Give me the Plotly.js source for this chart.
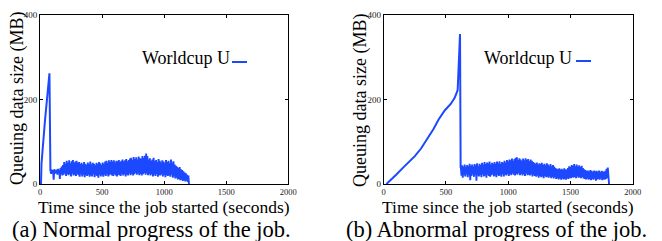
<!DOCTYPE html>
<html>
<head>
<meta charset="utf-8">
<script src="https://cdn.plot.ly/plotly-3.0.1.min.js"></script>
<style>
html,body{margin:0;padding:0;background:#fff;}
#chart{width:662px;height:241px;}
</style>
</head>
<body>
<div id="chart"></div>
<script>
// ---- data ----
const seriesName = "Worldcup U";
const xTicks = [0, 500, 1000, 1500, 2000];
const yTicks = [0, 200, 400];
const xTitle = "Time since the job started (seconds)";
const yTitle = "Queuing data size (MB)";
const captionA = "(a) Normal progress of the job.";
const captionB = "(b) Abnormal progress of the job.";

// (a) normal: initial build-up
const normalRampT = [8, 12, 40, 70, 76, 84];
const normalRampY = [0, 48, 150, 258, 262, 30];
// (a) normal: steady phase, sampled every 5 s from 85 s
const normalBandT0 = 85;
const normalBandDt = 5;
const normalBandY = [
  30,24,34,27,33,10,35,25,32,26,
  34,22,36,26,33,12,38,24,41,20,
  45,22,52,25,48,19,55,24,50,21,
  56,23,49,18,54,25,57,20,51,22,
  53,19,55,24,50,21,52,17,47,23,
  50,18,46,22,52,16,48,21,45,19,
  51,22,47,17,53,20,46,18,50,23,
  48,16,44,21,50,19,47,15,52,22,
  49,18,45,21,51,17,48,22,53,19,
  55,23,50,18,56,21,52,24,57,20,
  53,19,56,23,51,20,55,18,54,22,
  57,21,52,19,55,24,58,20,53,23,
  56,18,59,22,54,20,57,25,60,21,
  62,24,57,20,64,23,59,26,63,22,
  58,25,65,21,61,24,60,20,66,23,
  62,26,67,22,72,25,66,21,58,24,
  61,20,55,23,58,18,62,22,54,19,
  57,24,52,17,59,21,55,20,51,23,
  56,18,53,22,50,16,57,21,52,19,
  55,20,49,17,58,22,51,15,54,18,
  46,13,43,15,41,11,38,12,40,9,
  35,10,33,7,30,9,27,6,25,8,
  22,5,20,0
];

// (b) abnormal: long build-up
const abnormalRampT = [22, 60, 100, 150, 200, 250, 300, 350, 400, 440, 490, 540, 570, 594, 613, 618];
const abnormalRampY = [0, 10, 22, 37, 52, 66, 84, 106, 130, 152, 174, 190, 204, 222, 355, 38];
// (b) abnormal: steady phase, sampled every 5 s from 620 s
const abnormalBandT0 = 620;
const abnormalBandDt = 5;
const abnormalBandY = [
  38,20,44,15,41,22,46,18,40,24,
  45,16,42,21,48,9,43,19,46,23,
  41,17,47,22,44,8,49,20,42,18,
  48,21,45,16,50,23,46,18,52,20,
  47,15,51,22,49,19,53,17,46,21,
  50,23,47,18,52,20,48,16,53,22,
  49,19,54,21,47,17,52,24,50,18,
  55,22,51,20,57,24,53,19,58,23,
  56,21,60,25,55,22,59,20,62,24,
  63,22,57,26,61,21,58,24,55,20,
  60,23,56,19,61,25,57,21,59,22,
  54,20,58,23,55,18,52,21,50,19,
  48,17,51,20,46,15,49,19,47,16,
  50,18,45,14,48,19,44,16,49,17,
  46,15,43,18,47,14,42,17,45,13,
  41,16,38,12,36,14,35,11,37,13,
  34,10,36,13,33,11,37,12,35,10,
  34,13,38,12,42,15,40,14,45,16,
  43,15,47,17,42,14,46,18,41,15,
  44,16,40,14,43,17,38,13,35,12,
  33,11,31,13,32,10,30,12,33,9,
  31,12,29,10,32,13,30,8,31,11,
  29,12,32,10,28,13,31,9,30,11,
  28,10,31,12,36,14,39,20,0
];

// ---- layout helpers (pixel -> paper) ----
const W = 662, H = 241;
const px = v => v / W;
const py = v => (H - v) / H;

const BLUE = '#1c48ff';
const SERIF = 'Liberation Serif, Times New Roman, serif';

const traces = [
  {x: normalRampT, y: normalRampY, xaxis: 'x', yaxis: 'y', mode: 'lines',
   line: {color: BLUE, width: 2}, showlegend: false, name: seriesName},
  {x0: normalBandT0, dx: normalBandDt, y: normalBandY, xaxis: 'x', yaxis: 'y', mode: 'lines',
   line: {color: BLUE, width: 1.9}, showlegend: false, name: seriesName},
  {x: abnormalRampT, y: abnormalRampY, xaxis: 'x2', yaxis: 'y2', mode: 'lines',
   line: {color: BLUE, width: 2}, showlegend: false, name: seriesName},
  {x0: abnormalBandT0, dx: abnormalBandDt, y: abnormalBandY, xaxis: 'x2', yaxis: 'y2', mode: 'lines',
   line: {color: BLUE, width: 1.9}, showlegend: false, name: seriesName}
];

function xAxis(domain, anchor) {
  return {
    domain: domain, anchor: anchor, range: [0, 2000],
    tickvals: xTicks, ticktext: xTicks.map(String),
    ticks: 'inside', ticklen: 3, tickwidth: 1, tickcolor: '#000',
    showline: true, linecolor: '#000', linewidth: 1, mirror: 'allticks',
    showgrid: false, zeroline: false,
    tickfont: {family: SERIF, size: 8.5, color: '#222'},
    fixedrange: true
  };
}
function yAxis(anchor) {
  return {
    domain: [py(184), py(15)], anchor: anchor, range: [0, 400],
    tickvals: yTicks, ticktext: yTicks.map(String),
    ticks: 'inside', ticklen: 3, tickwidth: 1, tickcolor: '#000',
    showline: true, linecolor: '#000', linewidth: 1, mirror: 'allticks',
    showgrid: false, zeroline: false,
    tickfont: {family: SERIF, size: 9, color: '#222'},
    fixedrange: true
  };
}

const ann = (text, x, y, opts) => Object.assign({
  text: text, x: x, y: y, xref: 'paper', yref: 'paper',
  showarrow: false, xanchor: 'center', yanchor: 'middle',
  borderpad: 0,
  font: {family: SERIF, size: 18, color: '#000'}
}, opts || {});

const layout = {
  width: W, height: H,
  margin: {l: 0, r: 0, t: 0, b: 0},
  paper_bgcolor: '#fff', plot_bgcolor: '#fff',
  showlegend: false,
  xaxis: xAxis([px(40), px(288.3)], 'y'),
  yaxis: yAxis('x'),
  xaxis2: xAxis([px(383.7), px(632.7)], 'y2'),
  yaxis2: yAxis('x2'),
  annotations: [
    ann(xTitle, px(164), py(206.5), {font: {family: SERIF, size: 17.5, color: '#000'}}),
    ann(xTitle, px(508), py(206.5), {font: {family: SERIF, size: 17.5, color: '#000'}}),
    ann(yTitle, px(17), py(99), {textangle: -90}),
    ann(yTitle, px(361), py(100), {textangle: -90}),
    ann(captionA, px(151), py(229), {font: {family: SERIF, size: 22.5, color: '#000'}}),
    ann(captionB, px(496), py(229), {font: {family: SERIF, size: 22.5, color: '#000'}}),
    ann(seriesName, px(231), py(58), {xanchor: 'right'}),
    ann(seriesName, px(573), py(58), {xanchor: 'right'})
  ],
  shapes: [
    {type: 'line', xref: 'paper', yref: 'paper', x0: px(232), x1: px(247), y0: py(62), y1: py(62),
     line: {color: BLUE, width: 2}},
    {type: 'line', xref: 'paper', yref: 'paper', x0: px(576), x1: px(591), y0: py(61), y1: py(61),
     line: {color: BLUE, width: 2}}
  ]
};

Plotly.newPlot('chart', traces, layout, {displayModeBar: false, staticPlot: true});
</script>
</body>
</html>
